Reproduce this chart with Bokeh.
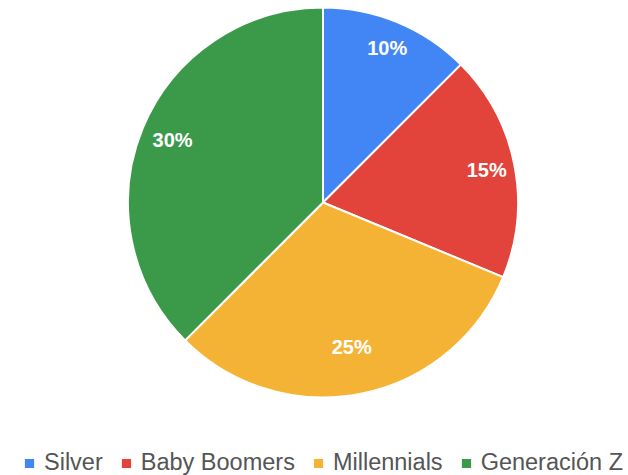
import math
from bokeh.plotting import figure
from bokeh.models import Range1d, ColumnDataSource, Legend, LegendItem
from bokeh.core.properties import value
from bokeh.embed import file_html
from bokeh.resources import INLINE

# ---- data ----
categories = ["Silver", "Baby Boomers", "Millennials", "Generación Z"]
values = [10, 15, 25, 30]
labels = ["10%", "15%", "25%", "30%"]

# ---- styles ----
colors = ["#4285F4", "#E2433A", "#F5B335", "#3A9A4A"]
label_rfrac = [0.86, 0.856, 0.755, 0.835]

W, H = 628, 475
cx, cy, R = 322.5, H - 202, 195

total = float(sum(values))
starts, ends, lx, ly = [], [], [], []
cum = 0.0
for i, v in enumerate(values):
    a0 = math.pi / 2 - 2 * math.pi * cum / total
    cum += v
    a1 = math.pi / 2 - 2 * math.pi * cum / total
    starts.append(a0)
    ends.append(a1)
    mid = (a0 + a1) / 2
    r = R * label_rfrac[i]
    lx.append(cx + r * math.cos(mid))
    ly.append(cy + r * math.sin(mid))

src = ColumnDataSource(dict(cat=categories, val=values, start=starts, end=ends,
                            color=colors, lx=lx, ly=ly, lab=labels))

p = figure(width=W, height=H, output_backend="svg", toolbar_location=None,
           x_range=Range1d(0, W), y_range=Range1d(0, H),
           min_border=0)
p.axis.visible = False
p.grid.visible = False
p.outline_line_color = None
p.background_fill_color = "white"
p.border_fill_color = "white"

wr = p.wedge(x=cx, y=cy, radius=R, start_angle="start", end_angle="end",
             direction="clock", fill_color="color", line_color="white",
             line_width=2, source=src)

p.text(x="lx", y="ly", text="lab", source=src, text_color="white",
       text_font=value("Liberation Sans"), text_font_size="20px",
       text_font_style="bold",
       text_align="center", text_baseline="middle")

items = [LegendItem(label=c, renderers=[wr], index=i) for i, c in enumerate(categories)]
legend = Legend(items=items, orientation="horizontal", location=(22, -1),
                glyph_width=14, glyph_height=14, label_standoff=8, spacing=16,
                padding=0, margin=0, border_line_alpha=0, background_fill_alpha=0,
                label_text_font="Liberation Sans", label_text_font_size="23.5px",
                label_text_color="#555555", label_height=22)
p.add_layout(legend, "center")

open("out.html", "w").write(file_html(p, INLINE))
